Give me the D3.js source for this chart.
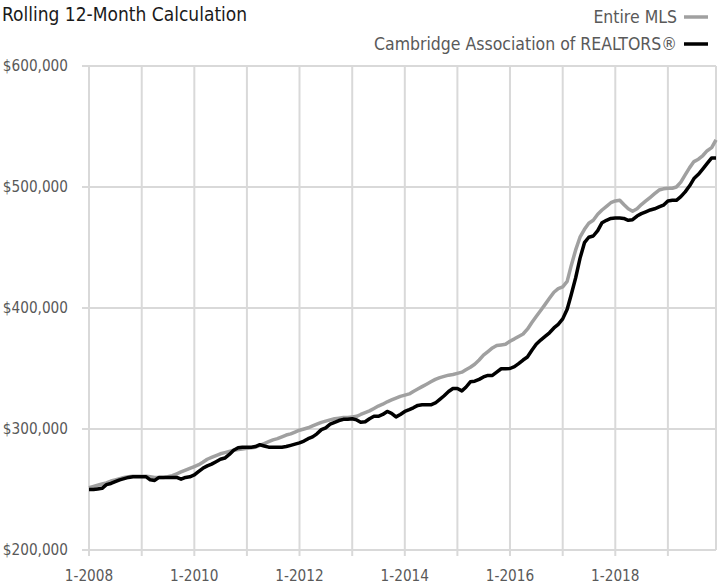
<!DOCTYPE html>
<html>
<head>
<meta charset="utf-8">
<script src="https://cdn.jsdelivr.net/npm/d3@7"></script>
<style>
  body { margin: 0; background: #fff; }
  svg { display: block; font-family: "Liberation Sans Narrow", "DejaVu Sans Condensed", "Roboto", sans-serif; }
  .grid { stroke: #d9d9d9; stroke-width: 2; }
  .tick-label { fill: #595959; font-size: 15.2px; }
</style>
</head>
<body>
<svg width="718" height="585"></svg>
<script>
// monthly values, Jan 2008 .. Dec 2019 (thousands of dollars)
var startMonth = new Date(2008, 0, 1);

var entireMLS = [
  251.5, 252.5, 253.5, 254.5, 255.5, 257, 258, 259, 260, 260.5, 261, 261,
  261, 261, 260.5, 260, 260, 260, 260.5, 261.5, 263, 264.5, 266, 267.5,
  269, 270.5, 272.5, 275, 276.5, 278, 279.5, 280.5, 281.5, 282.5, 283, 283.5,
  284, 284.5, 285, 286.5, 288, 289.5, 291, 292, 293.5, 295, 296, 297.5,
  299, 300, 301, 302.5, 304, 305.5, 306.5, 307.5, 308.5, 309, 309.5, 309.5,
  310, 310.5, 312, 313.5, 315, 317, 319, 320.5, 322.5, 324, 325.5, 327,
  328, 329, 331, 333, 335, 337, 339, 341, 342.5, 343.5, 344.5, 345,
  346, 347, 349, 351, 353.5, 357, 361, 364, 367, 369, 369.5, 370,
  372.5, 374.5, 376.5, 378.5, 382.5, 388, 393, 398, 403, 408, 413, 416,
  417.5, 422, 435, 448, 458.5, 465, 470, 472.5, 477.5, 481, 484, 487,
  488.5, 489, 485.5, 482, 480, 482, 485.5, 488.5, 491.5, 494.5, 497.5, 498.5,
  499, 499, 500, 504, 510, 516, 521, 523, 526, 530, 532.5, 539
];

var cambridge = [
  250, 250, 250.5, 251, 254, 255, 256.5, 258, 259, 260, 260.5, 260.5,
  260.5, 260.5, 258, 257.5, 260, 260, 260, 260, 260, 258.5, 260, 260.5,
  262, 265, 267.5, 269.5, 271, 273, 275, 276, 279, 282.5, 284.5, 285,
  285, 285, 285.5, 287, 286, 285, 285, 285, 285, 285.5, 286.5, 287.5,
  288.5, 290, 292, 293.5, 296, 299.5, 301, 304, 305.5, 307, 308, 308,
  308.5, 307.5, 305.5, 306, 308.5, 310.5, 310.5, 312, 314.5, 313, 310, 312,
  314.5, 316, 317.5, 319.5, 320, 320, 320, 321.5, 324.5, 327.5, 331, 333.5,
  333.5, 331.5, 334.5, 339, 339.5, 341, 343, 344.3, 344.3, 347, 349.8, 349.8,
  350, 351.5, 354, 357, 359.5, 365, 370, 373.5, 376.5, 379.5, 383.5, 386.5,
  391, 399, 411, 425, 441, 454, 458.5, 459.5, 464, 470.5, 472.5, 474,
  474.3, 474.3, 474, 472.5, 473, 476, 478, 479.5, 481, 482, 483.5, 485,
  488.5, 489, 489, 492, 496, 501, 507, 510.5, 515, 519.5, 524, 524
];

var yTicks = [200000, 300000, 400000, 500000, 600000];
var yearLines = d3.range(2008, 2020);
var yearLabels = [2008, 2010, 2012, 2014, 2016, 2018];

var seriesNames = ["Entire MLS", "Cambridge Association of REALTORS®"];
var seriesColors = ["#a0a0a0", "#000000"];

var svg = d3.select("svg");

// plot box (avoid "top", it is window.top in a browser)
var plot = { left: 89, right: 716, top: 66, bottom: 550 };

var x = d3.scaleTime()
  .domain([startMonth, d3.timeMonth.offset(startMonth, entireMLS.length - 1)])
  .range([plot.left, plot.right]);

var y = d3.scaleLinear()
  .domain([200000, 600000])
  .range([plot.bottom, plot.top]);

function toPoints(arr) {
  return arr.map(function(v, i) {
    return { date: d3.timeMonth.offset(startMonth, i), value: v * 1000 };
  });
}

var g = {
  grid: svg.append("g").attr("id", "grid"),
  lines: svg.append("g").attr("id", "lines"),
  labels: svg.append("g").attr("id", "labels"),
  legend: svg.append("g").attr("id", "legend")
};

// horizontal gridlines, with little ticks out to the left
g.grid.selectAll("line.h")
  .data(yTicks)
  .enter()
  .append("line")
  .attr("class", "grid h")
  .attr("x1", plot.left - 7)
  .attr("x2", plot.right)
  .attr("y1", function(d) { return y(d); })
  .attr("y2", function(d) { return y(d); });

// vertical gridlines at every january, ticks below
g.grid.selectAll("line.v")
  .data(yearLines)
  .enter()
  .append("line")
  .attr("class", "grid v")
  .attr("x1", function(d) { return x(new Date(d, 0, 1)); })
  .attr("x2", function(d) { return x(new Date(d, 0, 1)); })
  .attr("y1", plot.top)
  .attr("y2", plot.bottom + 6);

// right border of plot
g.grid.append("line")
  .attr("class", "grid")
  .attr("x1", plot.right).attr("x2", plot.right)
  .attr("y1", plot.top).attr("y2", plot.bottom);

var yFormat = d3.format("$,.0f");

g.labels.selectAll("text.y")
  .data(yTicks)
  .enter()
  .append("text")
  .attr("class", "tick-label y")
  .attr("x", 68)
  .attr("y", function(d) { return y(d); })
  .attr("dy", "0.35em")
  .attr("text-anchor", "end")
  .text(function(d) { return yFormat(d); });

g.labels.selectAll("text.x")
  .data(yearLabels)
  .enter()
  .append("text")
  .attr("class", "tick-label x")
  .attr("x", function(d) { return x(new Date(d, 0, 1)); })
  .attr("y", 581)
  .attr("text-anchor", "middle")
  .text(function(d) { return "1-" + d; });

var line = d3.line()
  .x(function(d) { return x(d.date); })
  .y(function(d) { return y(d.value); });

[entireMLS, cambridge].forEach(function(arr, i) {
  g.lines.append("path")
    .datum(toPoints(arr))
    .attr("d", line)
    .attr("fill", "none")
    .attr("stroke", seriesColors[i])
    .attr("stroke-width", 3.5)
    .attr("stroke-linejoin", "round");
});

// title
svg.append("text")
  .attr("x", 2)
  .attr("y", 21)
  .attr("fill", "#1a1a1a")
  .style("font-size", "19px")
  .text("Rolling 12-Month Calculation");

// legend, right aligned
var legendY = [17, 44];
seriesNames.forEach(function(name, i) {
  g.legend.append("text")
    .attr("x", 677)
    .attr("y", legendY[i])
    .attr("dy", "0.35em")
    .attr("text-anchor", "end")
    .attr("fill", "#595959")
    .style("font-size", "17.5px")
    .text(name);
  g.legend.append("line")
    .attr("x1", 684).attr("x2", 708)
    .attr("y1", legendY[i]).attr("y2", legendY[i])
    .attr("stroke", seriesColors[i])
    .attr("stroke-width", 3.5);
});
</script>
</body>
</html>
